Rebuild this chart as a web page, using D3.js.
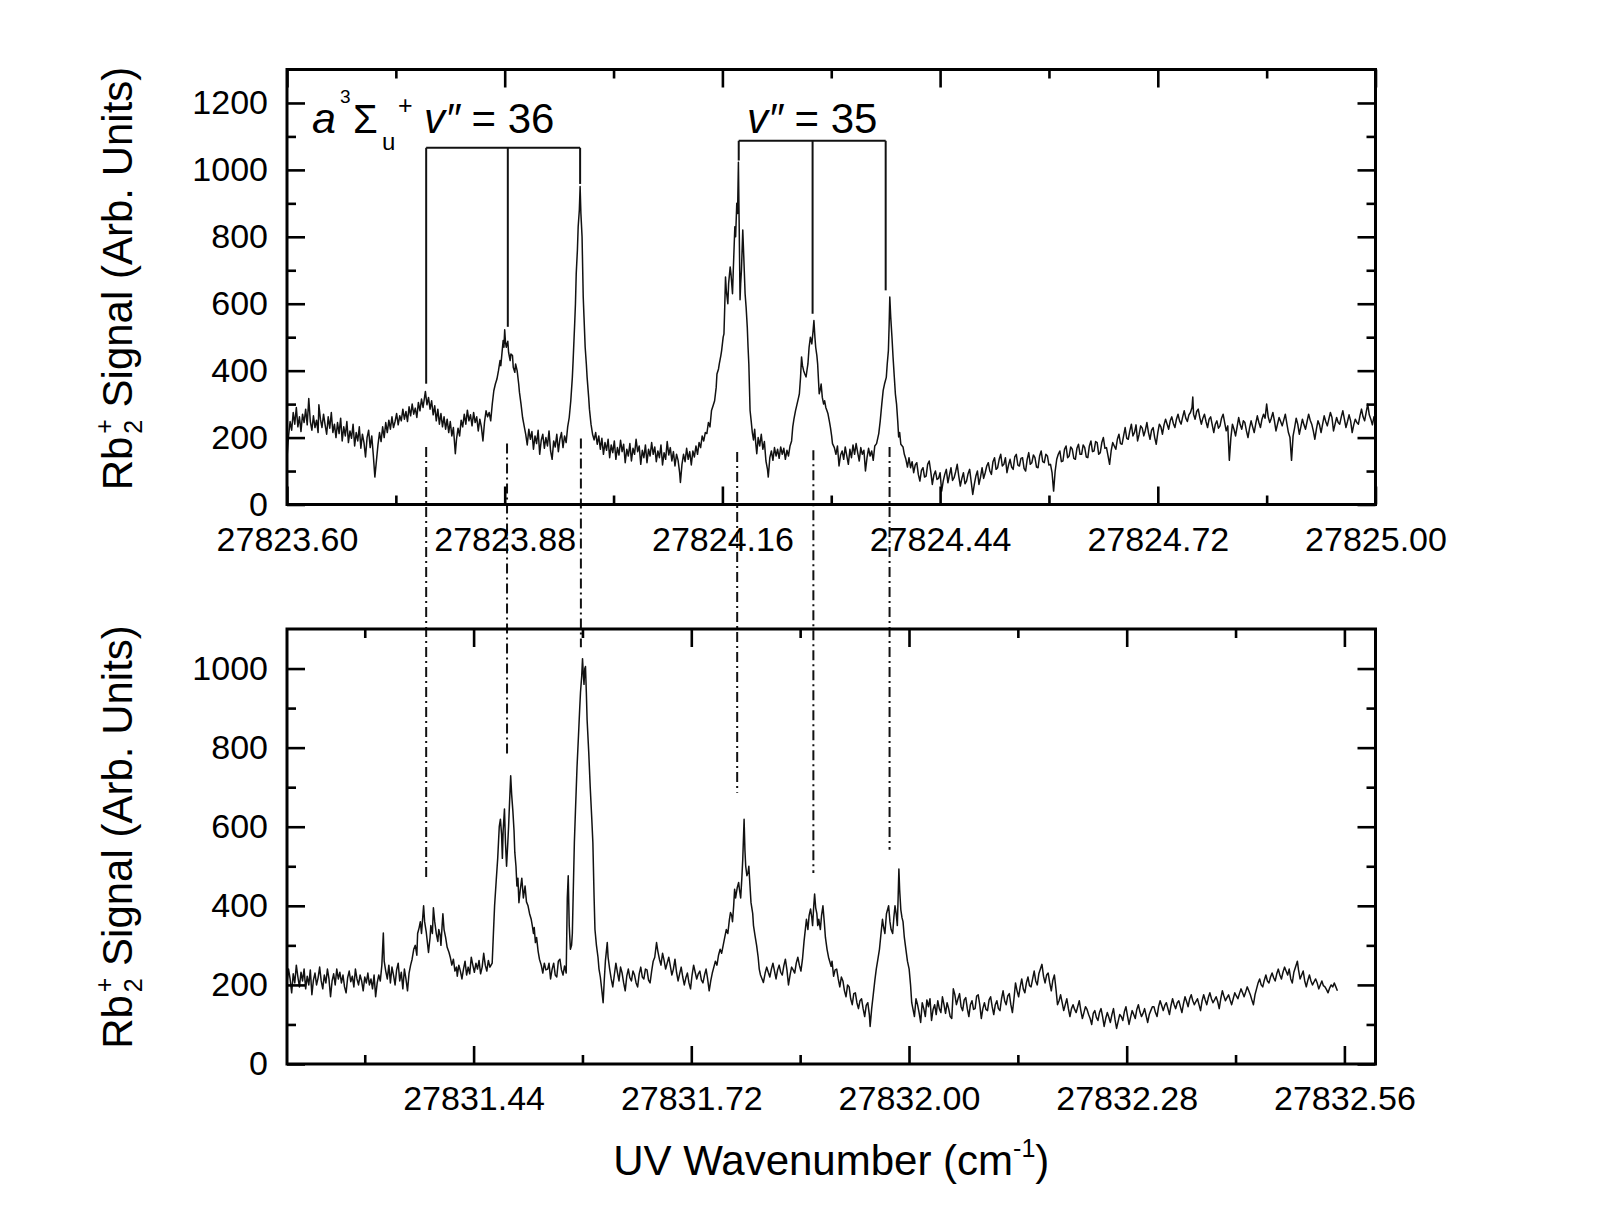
<!DOCTYPE html>
<html><head><meta charset="utf-8">
<script src="https://cdn.jsdelivr.net/npm/d3@7"></script>
<style>
body{margin:0;background:#fff}
svg{display:block}
text{font-family:"Liberation Sans",Arial,Helvetica,sans-serif;fill:#000}
</style>
</head><body>
<svg id="chart" width="1598" height="1221"></svg>
<script>
// ---------------- data ----------------
const topXDomain = [27823.60, 27825.00];
const topXMajorTicks = [27823.60, 27823.88, 27824.16, 27824.44, 27824.72, 27825.00];
const topXMinorTicks = [27823.74, 27824.02, 27824.30, 27824.58, 27824.86];
const topYDomain = [0, 1300];
const topYMajorTicks = [0, 200, 400, 600, 800, 1000, 1200];
const topYMinorTicks = [100, 300, 500, 700, 900, 1100];

const bottomXDomain = [27831.20, 27832.60];
const bottomXMajorTicks = [27831.44, 27831.72, 27832.00, 27832.28, 27832.56];
const bottomXMinorTicks = [27831.30, 27831.58, 27831.86, 27832.14, 27832.42];
const bottomYDomain = [0, 1100];
const bottomYMajorTicks = [0, 200, 400, 600, 800, 1000];
const bottomYMinorTicks = [100, 300, 500, 700, 900];

// [wavenumber (cm^-1), Rb2+ signal] — upper trace
const topSpectrum = [
[27823.600,140],[27823.602,205],[27823.604,248],[27823.606,222],[27823.608,275],[27823.610,240],[27823.612,290],[27823.614,232],
[27823.616,262],[27823.618,218],[27823.620,270],[27823.622,245],[27823.624,285],[27823.626,238],[27823.628,317],[27823.630,248],
[27823.632,222],[27823.634,265],[27823.636,230],[27823.638,252],[27823.640,215],[27823.641,298],[27823.643,255],[27823.645,230],
[27823.647,270],[27823.649,238],[27823.651,210],[27823.653,262],[27823.655,228],[27823.657,275],[27823.659,215],[27823.661,240],
[27823.663,200],[27823.665,245],[27823.667,212],[27823.669,258],[27823.671,190],[27823.673,232],[27823.675,205],[27823.677,248],
[27823.679,185],[27823.681,220],[27823.683,198],[27823.685,240],[27823.687,175],[27823.689,215],[27823.691,190],[27823.693,232],
[27823.695,168],[27823.697,210],[27823.699,185],[27823.701,142],[27823.703,200],[27823.705,222],[27823.707,170],[27823.709,205],
[27823.711,148],[27823.713,82],[27823.715,130],[27823.717,178],[27823.719,215],[27823.721,188],[27823.723,232],[27823.725,200],
[27823.727,245],[27823.729,215],[27823.731,252],[27823.733,225],[27823.735,262],[27823.737,230],[27823.739,248],[27823.741,272],
[27823.743,238],[27823.745,265],[27823.747,250],[27823.749,285],[27823.751,255],[27823.753,278],[27823.755,248],[27823.757,292],
[27823.759,265],[27823.761,300],[27823.763,270],[27823.765,288],[27823.767,260],[27823.769,305],[27823.771,280],[27823.773,315],
[27823.775,290],[27823.777,322],[27823.778,338],[27823.780,298],[27823.782,320],[27823.784,285],[27823.786,310],[27823.788,268],
[27823.790,295],[27823.792,250],[27823.794,285],[27823.796,240],[27823.798,272],[27823.800,232],[27823.802,262],[27823.804,225],
[27823.806,255],[27823.808,215],[27823.810,248],[27823.812,205],[27823.814,230],[27823.8165,152],[27823.818,195],[27823.820,228],
[27823.822,205],[27823.824,252],[27823.826,232],[27823.828,270],[27823.830,240],[27823.832,282],[27823.834,250],[27823.836,268],
[27823.838,235],[27823.840,275],[27823.842,245],[27823.844,262],[27823.846,220],[27823.848,255],[27823.850,232],[27823.852,190],
[27823.854,245],[27823.856,280],[27823.858,262],[27823.860,275],[27823.862,250],[27823.864,300],[27823.866,340],[27823.868,360],
[27823.870,375],[27823.872,400],[27823.874,430],[27823.875,415],[27823.877,465],[27823.878,490],[27823.879,470],[27823.880,522],
[27823.881,485],[27823.882,470],[27823.884,488],[27823.885,455],[27823.887,430],[27823.888,450],[27823.890,445],[27823.891,410],
[27823.893,395],[27823.894,420],[27823.896,400],[27823.898,360],[27823.899,335],[27823.901,300],[27823.903,260],[27823.905,235],
[27823.907,210],[27823.909,178],[27823.911,225],[27823.913,195],[27823.915,218],[27823.917,165],[27823.919,205],[27823.921,182],
[27823.923,222],[27823.925,150],[27823.927,192],[27823.929,210],[27823.931,168],[27823.933,200],[27823.935,175],[27823.937,220],
[27823.939,160],[27823.941,135],[27823.943,190],[27823.945,172],[27823.947,210],[27823.949,158],[27823.951,195],[27823.953,215],
[27823.955,170],[27823.957,205],[27823.959,185],[27823.961,232],[27823.963,260],[27823.965,310],[27823.967,380],[27823.968,430],
[27823.970,540],[27823.971,600],[27823.972,690],[27823.9735,760],[27823.9745,830],[27823.976,880],[27823.977,950],[27823.978,870],
[27823.9795,800],[27823.981,620],[27823.982,560],[27823.9835,470],[27823.985,420],[27823.986,380],[27823.988,320],[27823.989,285],
[27823.991,240],[27823.993,210],[27823.995,193],[27823.997,215],[27823.999,180],[27824.001,205],[27824.003,165],[27824.005,198],
[27824.007,150],[27824.009,185],[27824.011,162],[27824.013,195],[27824.015,140],[27824.017,178],[27824.019,155],[27824.021,190],
[27824.023,135],[27824.025,170],[27824.027,148],[27824.029,192],[27824.031,158],[27824.033,180],[27824.035,125],[27824.037,165],
[27824.039,145],[27824.041,182],[27824.043,130],[27824.045,168],[27824.047,150],[27824.049,195],[27824.051,158],[27824.053,175],
[27824.055,120],[27824.057,162],[27824.059,140],[27824.061,178],[27824.063,125],[27824.065,165],[27824.067,145],[27824.069,185],
[27824.071,150],[27824.073,172],[27824.075,128],[27824.077,160],[27824.079,140],[27824.081,178],[27824.083,118],[27824.085,155],
[27824.087,135],[27824.089,188],[27824.091,148],[27824.093,170],[27824.095,130],[27824.097,158],[27824.099,115],[27824.101,150],
[27824.103,132],[27824.105,95],[27824.106,66],[27824.108,120],[27824.110,150],[27824.112,128],[27824.114,168],[27824.116,135],
[27824.118,158],[27824.120,118],[27824.122,160],[27824.124,142],[27824.126,175],[27824.128,150],[27824.130,185],[27824.132,170],
[27824.134,205],[27824.136,190],[27824.138,215],[27824.140,212],[27824.142,245],[27824.144,232],[27824.146,281],[27824.148,295],
[27824.150,310],[27824.152,350],[27824.153,390],[27824.155,405],[27824.156,420],[27824.158,445],[27824.159,460],[27824.161,500],
[27824.162,510],[27824.163,590],[27824.164,680],[27824.165,640],[27824.167,600],[27824.168,660],[27824.170,710],[27824.171,690],
[27824.173,630],[27824.174,700],[27824.176,830],[27824.177,800],[27824.1785,900],[27824.1795,870],[27824.1806,1023],[27824.1815,850],
[27824.1827,612],[27824.1835,660],[27824.1845,700],[27824.1862,820],[27824.1875,740],[27824.1892,630],[27824.1905,590],[27824.192,530],
[27824.193,470],[27824.194,420],[27824.1956,281],[27824.197,250],[27824.1985,215],[27824.200,193],[27824.2015,225],[27824.203,180],
[27824.2042,152],[27824.206,200],[27824.208,175],[27824.210,210],[27824.212,165],[27824.214,188],[27824.216,130],[27824.218,105],
[27824.219,82],[27824.221,140],[27824.223,160],[27824.225,132],[27824.227,170],[27824.229,145],[27824.231,165],[27824.233,138],
[27824.235,172],[27824.237,150],[27824.239,168],[27824.241,135],[27824.243,162],[27824.245,145],[27824.247,175],[27824.249,190],
[27824.2505,232],[27824.252,255],[27824.254,280],[27824.256,300],[27824.258,320],[27824.259,331],[27824.2605,380],[27824.2618,441],
[27824.263,415],[27824.2645,400],[27824.266,390],[27824.2676,381],[27824.269,405],[27824.270,420],[27824.2715,470],[27824.2732,500],
[27824.275,480],[27824.2765,515],[27824.2777,550],[27824.279,500],[27824.280,470],[27824.2815,445],[27824.2825,420],[27824.2845,331],
[27824.286,345],[27824.287,360],[27824.2885,320],[27824.2902,300],[27824.2915,310],[27824.293,290],[27824.2945,280],[27824.2958,271],
[27824.2975,250],[27824.299,230],[27824.3005,205],[27824.3016,182],[27824.304,170],[27824.306,150],[27824.308,175],[27824.310,115],
[27824.312,148],[27824.314,160],[27824.316,135],[27824.318,172],[27824.320,145],[27824.322,120],[27824.324,165],[27824.326,140],
[27824.328,178],[27824.330,150],[27824.332,182],[27824.334,155],[27824.336,130],[27824.338,170],[27824.340,150],[27824.342,162],
[27824.344,100],[27824.346,140],[27824.348,168],[27824.350,145],[27824.352,160],[27824.354,132],[27824.356,175],[27824.3583,182],
[27824.3611,212],[27824.363,250],[27824.365,300],[27824.3668,341],[27824.3685,360],[27824.3708,380],[27824.372,420],[27824.3735,460],
[27824.3745,540],[27824.3753,620],[27824.3765,560],[27824.3781,500],[27824.3795,440],[27824.3811,381],[27824.3825,330],[27824.384,300],
[27824.3855,250],[27824.3867,202],[27824.388,215],[27824.3895,180],[27824.3923,172],[27824.394,150],[27824.396,135],[27824.398,112],
[27824.400,140],[27824.402,110],[27824.404,128],[27824.406,95],[27824.408,118],[27824.410,125],[27824.412,90],[27824.414,70],
[27824.416,102],[27824.418,110],[27824.420,82],[27824.422,85],[27824.424,120],[27824.426,130],[27824.428,98],[27824.430,60],
[27824.432,88],[27824.434,100],[27824.436,75],[27824.438,78],[27824.440,95],[27824.442,40],[27824.444,70],[27824.446,90],
[27824.448,105],[27824.450,65],[27824.452,88],[27824.454,110],[27824.456,72],[27824.458,80],[27824.460,98],[27824.462,120],
[27824.464,85],[27824.466,55],[27824.468,78],[27824.470,95],[27824.472,62],[27824.474,70],[27824.476,92],[27824.478,105],
[27824.480,68],[27824.482,30],[27824.484,60],[27824.486,85],[27824.488,100],[27824.490,60],[27824.492,82],[27824.494,110],
[27824.496,78],[27824.498,95],[27824.500,115],[27824.502,125],[27824.504,100],[27824.506,90],[27824.508,128],[27824.510,140],
[27824.512,105],[27824.514,110],[27824.516,135],[27824.518,150],[27824.520,115],[27824.522,120],[27824.524,140],[27824.526,95],
[27824.528,118],[27824.530,135],[27824.532,112],[27824.534,105],[27824.536,142],[27824.538,150],[27824.540,118],[27824.542,115],
[27824.544,138],[27824.546,140],[27824.548,108],[27824.550,100],[27824.552,135],[27824.554,155],[27824.556,120],[27824.558,125],
[27824.560,148],[27824.562,140],[27824.564,112],[27824.566,110],[27824.568,145],[27824.570,160],[27824.572,128],[27824.574,125],
[27824.576,150],[27824.578,145],[27824.580,118],[27824.582,120],[27824.584,95],[27824.586,40],[27824.588,100],[27824.590,135],
[27824.592,150],[27824.594,160],[27824.596,128],[27824.598,130],[27824.600,165],[27824.602,175],[27824.604,140],[27824.606,145],
[27824.608,172],[27824.610,165],[27824.612,138],[27824.614,135],[27824.616,168],[27824.618,180],[27824.620,150],[27824.622,150],
[27824.624,178],[27824.626,170],[27824.628,142],[27824.630,140],[27824.632,175],[27824.634,190],[27824.636,158],[27824.638,160],
[27824.640,188],[27824.642,185],[27824.644,150],[27824.646,155],[27824.648,185],[27824.650,200],[27824.652,168],[27824.654,170],
[27824.656,145],[27824.658,120],[27824.660,160],[27824.662,185],[27824.664,175],[27824.666,165],[27824.668,195],[27824.670,210],
[27824.672,182],[27824.674,180],[27824.676,205],[27824.678,230],[27824.680,198],[27824.682,195],[27824.684,220],[27824.686,240],
[27824.688,205],[27824.690,215],[27824.692,238],[27824.694,190],[27824.696,210],[27824.698,235],[27824.700,228],[27824.702,205],
[27824.704,222],[27824.706,245],[27824.708,215],[27824.710,195],[27824.712,222],[27824.714,230],[27824.716,200],[27824.718,180],
[27824.720,215],[27824.722,240],[27824.724,232],[27824.726,210],[27824.728,238],[27824.730,255],[27824.732,240],[27824.734,225],
[27824.736,250],[27824.738,262],[27824.740,242],[27824.742,230],[27824.744,255],[27824.746,270],[27824.748,250],[27824.750,240],
[27824.752,262],[27824.754,280],[27824.756,258],[27824.758,248],[27824.760,268],[27824.762,275],[27824.764,290],[27824.765,321],
[27824.766,270],[27824.768,255],[27824.770,278],[27824.772,285],[27824.774,260],[27824.776,240],[27824.778,258],[27824.780,270],
[27824.782,248],[27824.784,230],[27824.786,255],[27824.788,262],[27824.790,238],[27824.792,215],[27824.794,240],[27824.796,250],
[27824.798,228],[27824.800,235],[27824.802,258],[27824.804,270],[27824.806,245],[27824.808,220],[27824.810,235],[27824.812,132],
[27824.814,200],[27824.816,240],[27824.818,225],[27824.820,205],[27824.822,232],[27824.824,260],[27824.826,238],[27824.828,225],
[27824.830,250],[27824.832,245],[27824.834,220],[27824.836,200],[27824.838,228],[27824.840,250],[27824.842,232],[27824.844,215],
[27824.846,242],[27824.848,265],[27824.850,245],[27824.852,230],[27824.854,255],[27824.856,270],[27824.858,258],[27824.860,300],
[27824.862,262],[27824.864,245],[27824.866,258],[27824.868,275],[27824.870,250],[27824.872,220],[27824.874,240],[27824.876,260],
[27824.878,248],[27824.880,235],[27824.882,252],[27824.884,270],[27824.886,242],[27824.888,215],[27824.890,200],[27824.892,132],
[27824.894,205],[27824.896,230],[27824.898,258],[27824.900,240],[27824.902,210],[27824.904,232],[27824.906,255],[27824.908,238],
[27824.910,225],[27824.912,248],[27824.914,270],[27824.916,252],[27824.918,240],[27824.920,220],[27824.922,195],[27824.924,225],
[27824.926,250],[27824.928,238],[27824.930,215],[27824.932,240],[27824.934,265],[27824.936,248],[27824.938,235],[27824.940,255],
[27824.942,275],[27824.944,260],[27824.946,220],[27824.948,240],[27824.950,260],[27824.952,245],[27824.954,240],[27824.956,262],
[27824.958,280],[27824.960,255],[27824.962,230],[27824.964,248],[27824.966,268],[27824.968,250],[27824.970,215],[27824.972,238],
[27824.974,255],[27824.976,245],[27824.978,240],[27824.980,265],[27824.982,285],[27824.984,262],[27824.986,250],[27824.988,275],
[27824.990,300],[27824.992,268],[27824.994,255],[27824.996,238],[27824.998,262],[27825.000,250]
];

// [wavenumber (cm^-1), Rb2+ signal] — lower trace
const bottomSpectrum = [
[27831.200,205],[27831.202,240],[27831.204,215],[27831.206,180],[27831.208,228],[27831.210,205],[27831.212,250],[27831.214,220],
[27831.216,195],[27831.218,232],[27831.220,210],[27831.222,240],[27831.224,190],[27831.226,222],[27831.228,200],[27831.230,238],
[27831.232,175],[27831.234,212],[27831.236,230],[27831.238,200],[27831.240,218],[27831.242,245],[27831.244,210],[27831.246,190],
[27831.248,225],[27831.250,205],[27831.252,240],[27831.254,215],[27831.256,170],[27831.258,210],[27831.260,228],[27831.262,200],
[27831.264,240],[27831.266,215],[27831.268,232],[27831.270,205],[27831.272,225],[27831.274,195],[27831.276,180],[27831.278,218],
[27831.280,235],[27831.282,208],[27831.284,222],[27831.286,195],[27831.288,240],[27831.290,215],[27831.292,200],[27831.294,225],
[27831.296,210],[27831.298,185],[27831.300,220],[27831.302,205],[27831.304,230],[27831.306,200],[27831.308,215],[27831.310,190],
[27831.312,225],[27831.314,170],[27831.316,205],[27831.318,225],[27831.320,210],[27831.322,250],[27831.3239,331],[27831.325,260],
[27831.327,235],[27831.329,215],[27831.331,250],[27831.333,205],[27831.335,245],[27831.337,225],[27831.339,200],[27831.341,238],
[27831.343,255],[27831.345,210],[27831.347,232],[27831.349,190],[27831.351,240],[27831.353,215],[27831.355,185],[27831.357,230],
[27831.359,250],[27831.3609,265],[27831.363,290],[27831.365,300],[27831.367,275],[27831.368,330],[27831.370,345],[27831.3715,360],
[27831.373,330],[27831.3757,400],[27831.377,360],[27831.379,335],[27831.381,300],[27831.382,282],[27831.384,320],[27831.385,350],
[27831.387,330],[27831.3883,395],[27831.390,360],[27831.392,330],[27831.394,310],[27831.3952,340],[27831.397,325],[27831.398,300],
[27831.3995,350],[27831.4005,380],[27831.402,340],[27831.404,320],[27831.406,295],[27831.4084,282],[27831.410,270],[27831.412,250],
[27831.414,265],[27831.416,235],[27831.418,245],[27831.419,222],[27831.421,250],[27831.423,235],[27831.425,215],[27831.427,240],
[27831.429,260],[27831.431,225],[27831.433,245],[27831.435,228],[27831.437,270],[27831.439,250],[27831.441,232],[27831.443,255],
[27831.445,240],[27831.447,262],[27831.449,228],[27831.451,245],[27831.453,280],[27831.455,250],[27831.457,235],[27831.459,262],
[27831.461,245],[27831.4639,255],[27831.4655,331],[27831.467,400],[27831.4692,467],[27831.471,520],[27831.472,560],[27831.473,600],
[27831.4745,619],[27831.476,580],[27831.477,520],[27831.478,590],[27831.4797,645],[27831.481,560],[27831.4824,500],[27831.484,560],
[27831.485,600],[27831.486,650],[27831.4877,729],[27831.489,680],[27831.4905,640],[27831.492,590],[27831.493,535],[27831.4945,500],
[27831.4957,450],[27831.497,470],[27831.4983,408],[27831.500,440],[27831.502,470],[27831.504,420],[27831.5062,450],[27831.508,410],
[27831.510,400],[27831.512,380],[27831.5141,366],[27831.5155,350],[27831.517,330],[27831.518,345],[27831.5195,307],[27831.521,320],
[27831.523,285],[27831.5247,265],[27831.527,250],[27831.529,230],[27831.531,255],[27831.533,238],[27831.5353,240],[27831.537,255],
[27831.539,215],[27831.541,240],[27831.543,255],[27831.545,225],[27831.547,220],[27831.549,260],[27831.551,265],[27831.553,238],
[27831.555,225],[27831.557,248],[27831.5591,230],[27831.5605,420],[27831.5617,476],[27831.563,350],[27831.5645,290],[27831.566,300],
[27831.567,330],[27831.568,420],[27831.5696,560],[27831.571,640],[27831.573,750],[27831.5749,830],[27831.5765,900],[27831.5775,940],
[27831.579,980],[27831.5801,1025],[27831.581,990],[27831.582,960],[27831.583,1000],[27831.5839,1005],[27831.585,940],[27831.586,870],
[27831.5881,788],[27831.590,700],[27831.592,620],[27831.5934,560],[27831.595,420],[27831.5961,340],[27831.598,300],[27831.600,270],
[27831.6013,240],[27831.603,220],[27831.605,185],[27831.6066,155],[27831.608,210],[27831.6095,260],[27831.6119,307],[27831.613,270],
[27831.615,240],[27831.617,215],[27831.619,195],[27831.621,225],[27831.623,255],[27831.625,232],[27831.627,210],[27831.629,245],
[27831.631,230],[27831.633,205],[27831.635,185],[27831.637,222],[27831.639,240],[27831.641,218],[27831.643,210],[27831.645,235],
[27831.647,225],[27831.649,205],[27831.651,195],[27831.653,228],[27831.655,245],[27831.657,220],[27831.659,215],[27831.661,240],
[27831.663,238],[27831.665,212],[27831.667,205],[27831.669,235],[27831.671,260],[27831.673,270],[27831.6753,307],[27831.677,285],
[27831.679,265],[27831.681,250],[27831.683,280],[27831.685,262],[27831.687,240],[27831.689,255],[27831.691,270],[27831.693,248],
[27831.695,225],[27831.697,240],[27831.699,265],[27831.701,232],[27831.703,210],[27831.705,228],[27831.707,245],[27831.709,220],
[27831.711,200],[27831.713,218],[27831.715,230],[27831.717,205],[27831.719,190],[27831.721,225],[27831.723,250],[27831.725,232],
[27831.727,215],[27831.729,228],[27831.731,235],[27831.733,212],[27831.735,205],[27831.737,225],[27831.739,240],[27831.741,215],
[27831.743,185],[27831.745,210],[27831.747,230],[27831.749,245],[27831.751,260],[27831.753,250],[27831.755,275],[27831.7571,290],
[27831.759,280],[27831.761,300],[27831.763,320],[27831.765,340],[27831.767,330],[27831.769,365],[27831.7704,383],[27831.772,375],
[27831.773,360],[27831.7745,400],[27831.7757,442],[27831.777,420],[27831.779,445],[27831.7809,459],[27831.782,440],[27831.7835,420],
[27831.785,470],[27831.7862,518],[27831.7879,619],[27831.789,540],[27831.790,500],[27831.7915,476],[27831.793,485],[27831.794,500],
[27831.7955,450],[27831.7968,408],[27831.799,380],[27831.800,350],[27831.802,324],[27831.804,300],[27831.806,270],[27831.8074,240],
[27831.809,225],[27831.811,215],[27831.8127,206],[27831.815,230],[27831.817,245],[27831.819,232],[27831.821,220],[27831.823,240],
[27831.825,255],[27831.827,235],[27831.829,215],[27831.831,238],[27831.833,250],[27831.835,232],[27831.837,225],[27831.839,248],
[27831.841,265],[27831.843,238],[27831.845,200],[27831.847,225],[27831.849,245],[27831.851,238],[27831.853,230],[27831.855,255],
[27831.857,270],[27831.859,250],[27831.861,235],[27831.863,265],[27831.865,310],[27831.8681,366],[27831.870,340],[27831.8715,375],
[27831.8734,392],[27831.875,370],[27831.876,350],[27831.8775,400],[27831.8786,430],[27831.880,395],[27831.8815,380],[27831.8826,350],
[27831.884,366],[27831.886,340],[27831.8875,375],[27831.8893,400],[27831.891,360],[27831.8925,320],[27831.8946,290],[27831.8965,270],
[27831.8998,247],[27831.901,260],[27831.903,222],[27831.905,238],[27831.907,240],[27831.909,215],[27831.911,195],[27831.913,220],
[27831.915,210],[27831.917,185],[27831.919,170],[27831.921,200],[27831.923,195],[27831.925,165],[27831.927,150],[27831.929,178],
[27831.931,180],[27831.933,155],[27831.935,140],[27831.937,160],[27831.939,165],[27831.941,140],[27831.943,120],[27831.945,148],
[27831.947,155],[27831.949,125],[27831.950,95],[27831.952,140],[27831.954,175],[27831.956,210],[27831.9579,240],[27831.960,265],
[27831.962,290],[27831.964,330],[27831.9659,366],[27831.967,350],[27831.969,330],[27831.971,380],[27831.9738,400],[27831.9755,360],
[27831.977,340],[27831.979,330],[27831.9805,370],[27831.982,400],[27831.9835,380],[27831.985,350],[27831.986,420],[27831.987,493],
[27831.988,440],[27831.9895,390],[27831.991,370],[27831.9923,360],[27831.994,320],[27831.996,290],[27831.998,260],[27832.0002,240],
[27832.002,200],[27832.0035,155],[27832.005,140],[27832.007,120],[27832.009,165],[27832.011,150],[27832.013,130],[27832.015,105],
[27832.017,155],[27832.019,140],[27832.021,120],[27832.023,162],[27832.025,145],[27832.027,165],[27832.029,110],[27832.031,138],
[27832.033,150],[27832.035,125],[27832.037,160],[27832.039,140],[27832.041,130],[27832.043,170],[27832.045,150],[27832.047,128],
[27832.049,155],[27832.051,140],[27832.053,120],[27832.055,115],[27832.057,190],[27832.059,175],[27832.061,150],[27832.063,165],
[27832.065,178],[27832.067,145],[27832.069,135],[27832.071,162],[27832.073,168],[27832.075,140],[27832.077,120],[27832.079,150],
[27832.081,160],[27832.083,138],[27832.085,140],[27832.087,172],[27832.089,175],[27832.091,150],[27832.093,115],[27832.095,140],
[27832.097,155],[27832.099,138],[27832.101,135],[27832.103,162],[27832.105,170],[27832.107,145],[27832.109,125],[27832.111,150],
[27832.113,160],[27832.115,140],[27832.117,135],[27832.119,165],[27832.121,185],[27832.123,160],[27832.125,150],[27832.127,172],
[27832.129,178],[27832.131,150],[27832.133,130],[27832.135,165],[27832.137,205],[27832.139,185],[27832.141,170],[27832.143,195],
[27832.145,215],[27832.147,190],[27832.149,180],[27832.151,205],[27832.153,220],[27832.155,198],[27832.157,195],[27832.159,215],
[27832.161,235],[27832.163,210],[27832.165,200],[27832.167,228],[27832.169,240],[27832.171,252],[27832.173,222],[27832.175,205],
[27832.177,225],[27832.179,230],[27832.181,205],[27832.183,185],[27832.185,212],[27832.187,225],[27832.189,190],[27832.191,150],
[27832.193,160],[27832.195,175],[27832.197,155],[27832.199,135],[27832.201,150],[27832.203,165],[27832.205,140],[27832.207,120],
[27832.209,140],[27832.211,150],[27832.213,138],[27832.215,130],[27832.217,145],[27832.219,160],[27832.221,135],[27832.223,115],
[27832.225,130],[27832.227,145],[27832.229,138],[27832.231,125],[27832.233,115],[27832.235,100],[27832.237,128],[27832.239,135],
[27832.241,118],[27832.243,110],[27832.245,130],[27832.247,140],[27832.249,120],[27832.251,95],[27832.253,115],[27832.255,130],
[27832.257,118],[27832.259,105],[27832.261,125],[27832.263,140],[27832.265,112],[27832.267,90],[27832.269,108],[27832.271,125],
[27832.273,120],[27832.275,110],[27832.277,132],[27832.279,145],[27832.281,122],[27832.283,100],[27832.285,118],[27832.287,135],
[27832.289,125],[27832.291,115],[27832.293,138],[27832.295,150],[27832.297,132],[27832.299,120],[27832.301,128],[27832.303,140],
[27832.305,122],[27832.307,105],[27832.309,125],[27832.311,135],[27832.313,145],[27832.315,145],[27832.317,130],[27832.319,120],
[27832.321,145],[27832.323,160],[27832.325,148],[27832.327,135],[27832.329,148],[27832.331,155],[27832.333,140],[27832.335,125],
[27832.337,148],[27832.339,165],[27832.341,150],[27832.343,140],[27832.345,155],[27832.347,160],[27832.349,145],[27832.351,130],
[27832.353,152],[27832.355,170],[27832.357,158],[27832.359,145],[27832.361,165],[27832.363,175],[27832.365,160],[27832.367,150],
[27832.369,158],[27832.371,165],[27832.373,150],[27832.375,135],[27832.377,160],[27832.379,175],[27832.381,162],[27832.383,150],
[27832.385,168],[27832.387,180],[27832.389,165],[27832.391,155],[27832.393,162],[27832.395,170],[27832.397,158],[27832.399,140],
[27832.401,165],[27832.403,185],[27832.405,172],[27832.407,160],[27832.409,168],[27832.411,175],[27832.413,162],[27832.415,150],
[27832.417,165],[27832.419,180],[27832.421,172],[27832.423,165],[27832.425,178],[27832.427,190],[27832.429,180],[27832.431,170],
[27832.433,182],[27832.435,195],[27832.437,185],[27832.439,175],[27832.441,162],[27832.443,150],[27832.445,175],[27832.447,190],
[27832.449,205],[27832.451,215],[27832.453,200],[27832.455,195],[27832.457,212],[27832.459,225],[27832.461,210],[27832.463,205],
[27832.465,220],[27832.467,230],[27832.469,218],[27832.471,210],[27832.473,228],[27832.475,240],[27832.477,225],[27832.479,215],
[27832.481,232],[27832.483,245],[27832.485,235],[27832.487,225],[27832.489,240],[27832.491,215],[27832.493,205],[27832.495,232],
[27832.4995,260],[27832.501,238],[27832.503,215],[27832.505,225],[27832.507,235],[27832.509,210],[27832.511,195],[27832.513,212],
[27832.515,225],[27832.517,210],[27832.519,200],[27832.521,208],[27832.523,215],[27832.525,205],[27832.527,190],[27832.529,200],
[27832.531,210],[27832.533,198],[27832.535,195],[27832.537,188],[27832.539,180],[27832.541,192],[27832.543,200],[27832.545,195],
[27832.547,205],[27832.549,195],[27832.551,185]
];

// assignment brackets (upper panel)
const bracket36Wavenumbers = [27823.779, 27823.884, 27823.977];
const bracket36Level = 1066;
const bracket36Ends = [361, 531, 958];
const bracket35Wavenumbers = [27824.181, 27824.276, 27824.370];
const bracket35Level = 1087;
const bracket35Ends = [1028, 570, 640];

// dash-dot connectors (upper-panel wavenumber, start signal in upper panel, end signal in lower panel)
const connectorWavenumbers = [27823.779, 27823.883, 27823.978, 27824.179, 27824.277, 27824.375];
const connectorTopSignal = [172, 182, 197, 157, 162, 172];
const connectorBottomSignal = [466, 775, 1054, 686, 483, 542];

// ---------------- layout ----------------
const svg = d3.select('#chart');
svg.append('rect').attr('width', 1598).attr('height', 1221).attr('fill', '#fff');
const L = 287, R = 1375.5;
const topPanel = {t: 69.5, b: 504.5};
const botPanel = {t: 629, b: 1064};

const xTop = d3.scaleLinear().domain(topXDomain).range([L, R]);
const yTop = d3.scaleLinear().domain(topYDomain).range([topPanel.b, topPanel.t]);
const xBot = d3.scaleLinear().domain(bottomXDomain).range([L, R]);
const yBot = d3.scaleLinear().domain(bottomYDomain).range([botPanel.b, botPanel.t]);

const FONT_TICK = 34;
const ink = '#000';

function drawSpectrum(data, x, y) {
  const line = d3.line().x(d => x(d[0])).y(d => y(d[1]));
  svg.append('path').datum(data).attr('d', line)
    .attr('fill', 'none').attr('stroke', '#111').attr('stroke-width', 1.5)
    .attr('stroke-linejoin', 'round');
}

function drawAxes(x, y, panel, xMaj, xMin, yMaj, yMin, labelPad) {
  const w = R - L, h = panel.b - panel.t;
  const style = g => {
    g.select('.domain').remove();
    g.selectAll('line').attr('stroke', ink).attr('stroke-width', 2.6);
    g.selectAll('text').attr('font-size', FONT_TICK).attr('font-family', '"Liberation Sans",Arial,sans-serif').attr('fill', ink);
  };
  svg.append('g').attr('transform', `translate(0,${panel.b})`)
    .call(d3.axisBottom(x).tickValues(xMaj).tickSizeInner(-18).tickSizeOuter(0).tickPadding(labelPad).tickFormat(d3.format('.2f'))).call(style);
  svg.append('g').attr('transform', `translate(0,${panel.b})`)
    .call(d3.axisBottom(x).tickValues(xMin).tickSizeInner(-9).tickSizeOuter(0).tickFormat('')).call(style);
  svg.append('g').attr('transform', `translate(0,${panel.t})`)
    .call(d3.axisTop(x).tickValues(xMaj).tickSizeInner(-18).tickSizeOuter(0).tickFormat('')).call(style);
  svg.append('g').attr('transform', `translate(0,${panel.t})`)
    .call(d3.axisTop(x).tickValues(xMin).tickSizeInner(-9).tickSizeOuter(0).tickFormat('')).call(style);
  svg.append('g').attr('transform', `translate(${L},0)`)
    .call(d3.axisLeft(y).tickValues(yMaj).tickSizeInner(-18).tickSizeOuter(0).tickPadding(19).tickFormat(d3.format('d'))).call(style);
  svg.append('g').attr('transform', `translate(${L},0)`)
    .call(d3.axisLeft(y).tickValues(yMin).tickSizeInner(-9).tickSizeOuter(0).tickFormat('')).call(style);
  svg.append('g').attr('transform', `translate(${R},0)`)
    .call(d3.axisRight(y).tickValues(yMaj).tickSizeInner(-18).tickSizeOuter(0).tickFormat('')).call(style);
  svg.append('g').attr('transform', `translate(${R},0)`)
    .call(d3.axisRight(y).tickValues(yMin).tickSizeInner(-9).tickSizeOuter(0).tickFormat('')).call(style);
  svg.append('rect').attr('x', L).attr('y', panel.t).attr('width', w).attr('height', h)
    .attr('fill', 'none').attr('stroke', ink).attr('stroke-width', 3);
}

drawSpectrum(topSpectrum, xTop, yTop);
drawSpectrum(bottomSpectrum, xBot, yBot);

function drawBracket(ws, level, ends) {
  const g = svg.append('g').attr('stroke', '#111').attr('stroke-width', 2).attr('fill', 'none');
  g.append('line').attr('x1', xTop(ws[0])).attr('x2', xTop(ws[ws.length - 1]))
    .attr('y1', yTop(level)).attr('y2', yTop(level));
  ws.forEach((wv, i) => {
    g.append('line').attr('x1', xTop(wv)).attr('x2', xTop(wv))
      .attr('y1', yTop(level)).attr('y2', yTop(ends[i]));
  });
}
drawBracket(bracket36Wavenumbers, bracket36Level, bracket36Ends);
drawBracket(bracket35Wavenumbers, bracket35Level, bracket35Ends);

connectorWavenumbers.forEach((wv, i) => {
  svg.append('line').attr('x1', xTop(wv)).attr('x2', xTop(wv))
    .attr('y1', yTop(connectorTopSignal[i])).attr('y2', yBot(connectorBottomSignal[i]))
    .attr('stroke', '#111').attr('stroke-width', 2).attr('stroke-dasharray', '10,4,2,4');
});

drawAxes(xTop, yTop, topPanel, topXMajorTicks, topXMinorTicks, topYMajorTicks, topYMinorTicks, 22);
drawAxes(xBot, yBot, botPanel, bottomXMajorTicks, bottomXMinorTicks, bottomYMajorTicks, bottomYMinorTicks, 22);

// y titles
function yTitle(cy) {
  const t = svg.append('text').attr('transform', `translate(132,${cy}) rotate(-90)`)
    .attr('text-anchor', 'middle').attr('font-size', 42);
  t.append('tspan').text('Rb');
  t.append('tspan').attr('font-size', 25).attr('dy', 10).attr('dx', 3).text('2');
  t.append('tspan').attr('font-size', 25).attr('dy', -29).attr('dx', -14).text('+');
  t.append('tspan').attr('dy', 19).text(' Signal (Arb. Units)');
}
yTitle(278.5);
yTitle(837);

// x title
const xt = svg.append('text').attr('x', (L + R) / 2).attr('y', 1175)
  .attr('text-anchor', 'middle').attr('font-size', 42);
xt.append('tspan').text('UV Wavenumber (cm');
xt.append('tspan').attr('font-size', 25).attr('dy', -18).text('-1');
xt.append('tspan').attr('dy', 18).text(')');

// annotations
const ann = svg.append('g');
ann.append('text').attr('x', 312).attr('y', 133).attr('font-size', 43).attr('font-style', 'italic').text('a');
ann.append('text').attr('x', 340).attr('y', 103).attr('font-size', 19).text('3');
ann.append('text').attr('x', 353).attr('y', 133).attr('font-size', 40).text('\u03A3');
ann.append('text').attr('x', 382).attr('y', 150).attr('font-size', 24).text('u');
ann.append('text').attr('x', 398).attr('y', 114).attr('font-size', 25).text('+');
const v36 = ann.append('text').attr('x', 424).attr('y', 133).attr('font-size', 42);
v36.append('tspan').attr('font-style', 'italic').text('v\u2033');
v36.append('tspan').text(' = 36');
const v35 = ann.append('text').attr('x', 747).attr('y', 133).attr('font-size', 42);
v35.append('tspan').attr('font-style', 'italic').text('v\u2033');
v35.append('tspan').text(' = 35');
</script>
</body></html>
